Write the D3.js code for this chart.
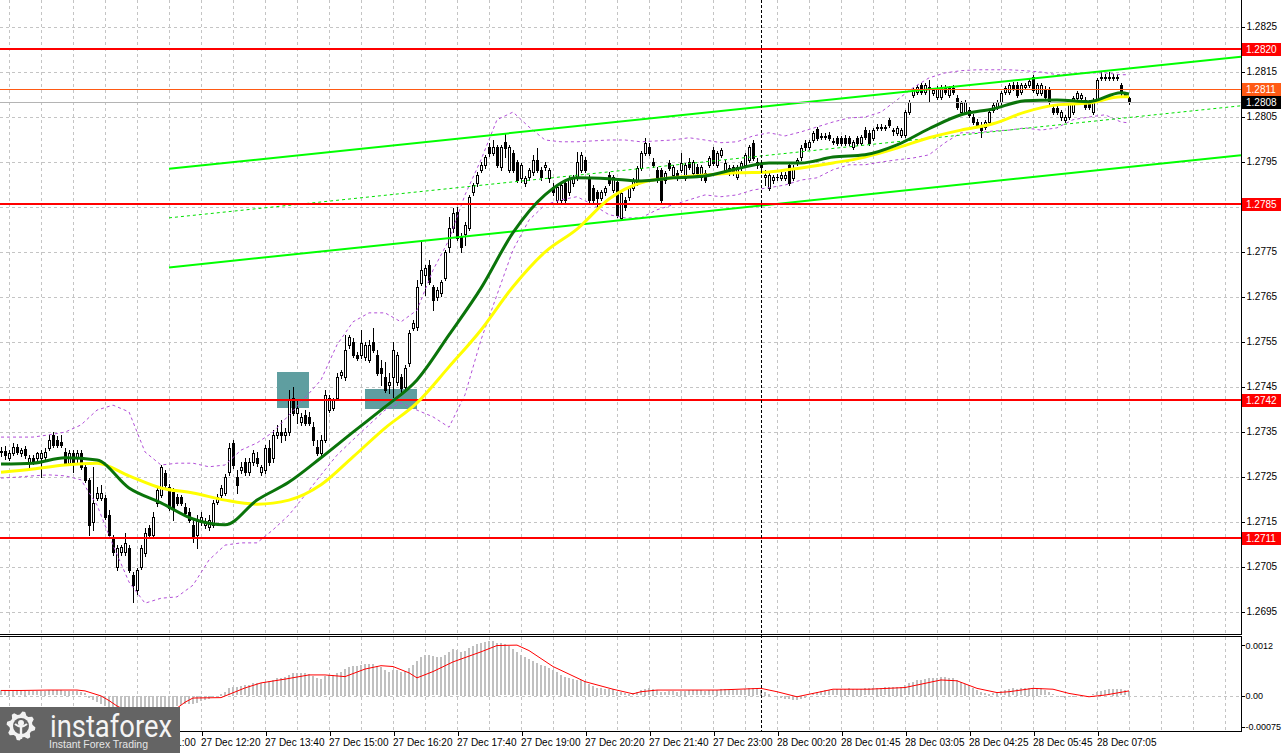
<!DOCTYPE html>
<html>
<head>
<meta charset="utf-8">
<title>GBPUSD M5</title>
<script src="https://d3js.org/d3.v7.min.js"></script>
<style>
html,body{margin:0;padding:0;background:#ffffff;overflow:hidden;}
svg{display:block;}
.ax text{font-family:"Liberation Sans",Arial,sans-serif;font-size:10px;fill:#000;}
.axm text{font-size:9px;}
</style>
</head>
<body>
<svg id="chart" width="1282" height="753"></svg>
<script>
// ================= DATA =================
const openP = [
1.27305,1.27307,1.27292,1.27303,1.27316,1.27303,1.27312,1.27280,1.27292,1.27292,
1.27292,1.27294,1.27314,1.27343,1.27332,1.27327,1.27305,1.27280,1.27303,1.27292,
1.27303,1.27272,1.27243,1.27149,1.27203,1.27203,1.27203,1.27165,1.27114,1.27049,
1.27083,1.27083,1.27092,1.27032,1.26998,1.27049,1.27080,1.27136,1.27120,1.27192,
1.27209,1.27258,1.27227,1.27216,1.27205,1.27205,1.27183,1.27172,1.27143,1.27120,
1.27149,1.27143,1.27138,1.27143,1.27194,1.27209,1.27214,1.27260,1.27325,1.27249,
1.27265,1.27283,1.27260,1.27283,1.27292,1.27260,1.27265,1.27314,1.27292,1.27343,
1.27349,1.27343,1.27349,1.27425,1.27392,1.27372,1.27387,1.27383,1.27360,1.27316,
1.27303,1.27332,1.27398,1.27403,1.27425,1.27476,1.27472,1.27543,1.27549,1.27520,
1.27520,1.27516,1.27509,1.27549,1.27520,1.27492,1.27472,1.27454,1.27472,1.27460,
1.27472,1.27449,1.27503,1.27580,1.27583,1.27680,1.27698,1.27720,1.27672,1.27649,
1.27658,1.27692,1.27760,1.27803,1.27838,1.27783,1.27789,1.27803,1.27883,1.27903,
1.27932,1.27943,1.27983,1.27969,1.27983,1.27938,1.27994,1.27932,1.27969,1.27949,
1.27914,1.27903,1.27916,1.27927,1.27954,1.27932,1.27938,1.27914,1.27894,1.27865,
1.27865,1.27903,1.27883,1.27903,1.27916,1.27932,1.27954,1.27914,1.27892,1.27883,
1.27869,1.27883,1.27920,1.27887,1.27905,1.27825,1.27865,1.27872,1.27892,1.27905,
1.27936,1.27969,1.27983,1.27949,1.27932,1.27932,1.27909,1.27947,1.27920,1.27925,
1.27932,1.27914,1.27949,1.27925,1.27938,1.27916,1.27925,1.27943,1.27976,1.27943,
1.27965,1.27932,1.27936,1.27938,1.27916,1.27936,1.27943,1.27954,1.27992,1.27949,
1.27943,1.27916,1.27892,1.27909,1.27916,1.27914,1.27914,1.27943,1.27914,1.27947,
1.27960,1.27992,1.27983,1.27998,1.28023,1.28005,1.28007,1.28009,1.27994,1.28003,
1.28003,1.28003,1.28003,1.27983,1.28003,1.27992,1.28020,1.28014,1.28003,1.28025,
1.28025,1.28025,1.28043,1.28020,1.28014,1.28009,1.28009,1.28060,1.28098,1.28105,
1.28120,1.28105,1.28114,1.28103,1.28094,1.28094,1.28114,1.28098,1.28114,1.28092,
1.28060,1.28060,1.28065,1.28049,1.28038,1.28032,1.28027,1.28038,1.28065,1.28072,
1.28083,1.28105,1.28105,1.28120,1.28120,1.28105,1.28116,1.28120,1.28138,1.28103,
1.28103,1.28112,1.28112,1.28069,1.28069,1.28049,1.28043,1.28049,1.28060,1.28092,
1.28092,1.28087,1.28083,1.28060,1.28087,1.28136,1.28136,1.28136,1.28136,1.28138,
1.28120,1.28100,1.28092];
const highP = [
1.27316,1.27318,1.27309,1.27325,1.27323,1.27314,1.27318,1.27298,1.27298,1.27305,
1.27309,1.27314,1.27343,1.27349,1.27340,1.27343,1.27314,1.27309,1.27309,1.27309,
1.27309,1.27276,1.27247,1.27272,1.27227,1.27232,1.27209,1.27176,1.27120,1.27098,
1.27098,1.27125,1.27098,1.27038,1.27047,1.27098,1.27136,1.27143,1.27172,1.27225,
1.27276,1.27265,1.27234,1.27225,1.27212,1.27209,1.27192,1.27180,1.27154,1.27165,
1.27172,1.27158,1.27165,1.27198,1.27212,1.27232,1.27256,1.27325,1.27332,1.27265,
1.27283,1.27292,1.27292,1.27309,1.27305,1.27276,1.27320,1.27332,1.27354,1.27365,
1.27376,1.27358,1.27443,1.27449,1.27420,1.27392,1.27398,1.27394,1.27372,1.27332,
1.27343,1.27443,1.27432,1.27425,1.27480,1.27487,1.27565,1.27565,1.27558,1.27527,
1.27576,1.27549,1.27554,1.27580,1.27532,1.27509,1.27505,1.27480,1.27549,1.27527,
1.27478,1.27498,1.27576,1.27598,1.27687,1.27772,1.27720,1.27732,1.27676,1.27672,
1.27687,1.27754,1.27827,1.27847,1.27849,1.27792,1.27816,1.27876,1.27903,1.27927,
1.27949,1.27965,1.27992,1.27998,1.27987,1.27987,1.28014,1.27987,1.27976,1.27954,
1.27947,1.27918,1.27936,1.27965,1.27980,1.27938,1.27949,1.27936,1.27903,1.27898,
1.27903,1.27909,1.27918,1.27920,1.27972,1.27972,1.27960,1.27920,1.27898,1.27887,
1.27887,1.27896,1.27927,1.27920,1.27914,1.27887,1.27872,1.27896,1.27914,1.27940,
1.27974,1.28003,1.27992,1.27958,1.27938,1.27936,1.27929,1.27954,1.27943,1.27932,
1.27969,1.27947,1.27958,1.27954,1.27945,1.27943,1.27932,1.27963,1.27983,1.27974,
1.27980,1.27954,1.27943,1.27943,1.27943,1.27952,1.27969,1.27987,1.27998,1.27958,
1.27949,1.27932,1.27925,1.27920,1.27923,1.27927,1.27927,1.27949,1.27943,1.27958,
1.27987,1.27998,1.27998,1.28018,1.28027,1.28014,1.28014,1.28016,1.28003,1.28007,
1.28007,1.28009,1.28007,1.27998,1.28007,1.28009,1.28027,1.28020,1.28025,1.28034,
1.28034,1.28032,1.28047,1.28025,1.28029,1.28025,1.28065,1.28087,1.28114,1.28120,
1.28125,1.28125,1.28132,1.28114,1.28118,1.28120,1.28120,1.28118,1.28120,1.28098,
1.28085,1.28087,1.28072,1.28056,1.28045,1.28038,1.28043,1.28065,1.28080,1.28087,
1.28107,1.28118,1.28125,1.28127,1.28127,1.28125,1.28125,1.28134,1.28143,1.28125,
1.28125,1.28118,1.28116,1.28076,1.28074,1.28065,1.28054,1.28085,1.28096,1.28107,
1.28103,1.28094,1.28087,1.28092,1.28136,1.28149,1.28145,1.28149,1.28145,1.28145,
1.28125,1.28105,1.28094];
const lowP = [
1.27296,1.27289,1.27287,1.27298,1.27300,1.27296,1.27292,1.27269,1.27278,1.27283,
1.27249,1.27289,1.27309,1.27316,1.27316,1.27316,1.27276,1.27276,1.27260,1.27283,
1.27267,1.27238,1.27120,1.27132,1.27198,1.27198,1.27156,1.27114,1.27076,1.27043,
1.27076,1.27076,1.27038,1.26972,1.26989,1.27045,1.27074,1.27114,1.27114,1.27185,
1.27205,1.27227,1.27176,1.27154,1.27187,1.27187,1.27165,1.27149,1.27105,1.27092,
1.27143,1.27136,1.27132,1.27138,1.27189,1.27205,1.27209,1.27254,1.27269,1.27214,
1.27258,1.27254,1.27254,1.27276,1.27274,1.27254,1.27258,1.27276,1.27283,1.27336,
1.27327,1.27332,1.27343,1.27387,1.27369,1.27365,1.27365,1.27365,1.27320,1.27298,
1.27296,1.27327,1.27394,1.27398,1.27420,1.27469,1.27465,1.27536,1.27516,1.27509,
1.27514,1.27509,1.27505,1.27527,1.27476,1.27454,1.27438,1.27436,1.27427,1.27454,
1.27432,1.27443,1.27496,1.27576,1.27576,1.27676,1.27654,1.27678,1.27620,1.27643,
1.27652,1.27687,1.27749,1.27794,1.27776,1.27749,1.27765,1.27798,1.27876,1.27896,
1.27927,1.27936,1.27963,1.27965,1.27938,1.27932,1.27960,1.27927,1.27927,1.27905,
1.27905,1.27896,1.27909,1.27920,1.27927,1.27909,1.27932,1.27905,1.27876,1.27858,
1.27858,1.27860,1.27876,1.27896,1.27909,1.27927,1.27927,1.27858,1.27858,1.27849,
1.27865,1.27876,1.27898,1.27883,1.27827,1.27820,1.27843,1.27865,1.27887,1.27898,
1.27932,1.27965,1.27965,1.27938,1.27905,1.27858,1.27903,1.27932,1.27914,1.27909,
1.27927,1.27909,1.27934,1.27920,1.27920,1.27909,1.27905,1.27938,1.27943,1.27938,
1.27960,1.27927,1.27920,1.27920,1.27912,1.27932,1.27938,1.27949,1.27954,1.27936,
1.27932,1.27898,1.27887,1.27903,1.27909,1.27909,1.27909,1.27898,1.27909,1.27943,
1.27954,1.27976,1.27978,1.27994,1.27998,1.28000,1.28000,1.27998,1.27989,1.27987,
1.27987,1.27987,1.27987,1.27978,1.27987,1.27987,1.28000,1.27987,1.27998,1.28020,
1.28020,1.28020,1.28027,1.28009,1.28009,1.28005,1.28005,1.28056,1.28094,1.28100,
1.28100,1.28100,1.28083,1.28098,1.28089,1.28089,1.28100,1.28094,1.28100,1.28067,
1.28056,1.28056,1.28049,1.28034,1.28027,1.28005,1.28023,1.28034,1.28060,1.28067,
1.28078,1.28100,1.28100,1.28109,1.28094,1.28100,1.28112,1.28116,1.28105,1.28098,
1.28098,1.28089,1.28078,1.28056,1.28056,1.28043,1.28038,1.28045,1.28056,1.28087,
1.28087,1.28067,1.28067,1.28056,1.28083,1.28132,1.28132,1.28132,1.28132,1.28132,
1.28098,1.28094,1.28078];
const closeP = [
1.27307,1.27298,1.27303,1.27316,1.27305,1.27309,1.27298,1.27292,1.27283,1.27303,
1.27303,1.27305,1.27332,1.27320,1.27320,1.27320,1.27280,1.27303,1.27280,1.27303,
1.27272,1.27243,1.27143,1.27192,1.27214,1.27214,1.27160,1.27120,1.27083,1.27092,
1.27094,1.27103,1.27043,1.27009,1.27043,1.27092,1.27125,1.27120,1.27160,1.27220,
1.27272,1.27232,1.27180,1.27180,1.27192,1.27192,1.27169,1.27154,1.27114,1.27154,
1.27160,1.27149,1.27154,1.27192,1.27205,1.27225,1.27249,1.27314,1.27276,1.27232,
1.27272,1.27260,1.27283,1.27303,1.27280,1.27272,1.27314,1.27283,1.27343,1.27349,
1.27343,1.27349,1.27420,1.27392,1.27403,1.27383,1.27369,1.27369,1.27332,1.27303,
1.27332,1.27432,1.27425,1.27420,1.27472,1.27483,1.27532,1.27560,1.27520,1.27514,
1.27547,1.27543,1.27543,1.27532,1.27480,1.27480,1.27443,1.27460,1.27532,1.27520,
1.27447,1.27492,1.27569,1.27592,1.27672,1.27709,1.27714,1.27683,1.27643,1.27665,
1.27683,1.27749,1.27803,1.27836,1.27780,1.27760,1.27809,1.27872,1.27898,1.27920,
1.27943,1.27960,1.27969,1.27983,1.27943,1.27983,1.27980,1.27983,1.27932,1.27909,
1.27943,1.27914,1.27932,1.27954,1.27932,1.27916,1.27943,1.27932,1.27883,1.27894,
1.27898,1.27865,1.27914,1.27916,1.27949,1.27965,1.27932,1.27865,1.27865,1.27869,
1.27883,1.27892,1.27903,1.27916,1.27832,1.27880,1.27849,1.27892,1.27909,1.27936,
1.27969,1.27992,1.27969,1.27943,1.27909,1.27865,1.27925,1.27936,1.27938,1.27914,
1.27947,1.27943,1.27938,1.27949,1.27925,1.27938,1.27909,1.27958,1.27947,1.27969,
1.27976,1.27947,1.27925,1.27925,1.27938,1.27947,1.27965,1.27983,1.27958,1.27943,
1.27938,1.27920,1.27920,1.27916,1.27916,1.27920,1.27920,1.27903,1.27936,1.27954,
1.27980,1.27983,1.27994,1.28014,1.28003,1.28007,1.28005,1.28003,1.27996,1.27992,
1.27992,1.27992,1.27992,1.27994,1.27992,1.28005,1.28005,1.27992,1.28020,1.28027,
1.28027,1.28027,1.28032,1.28018,1.28025,1.28020,1.28060,1.28083,1.28109,1.28116,
1.28105,1.28120,1.28116,1.28109,1.28114,1.28116,1.28105,1.28114,1.28105,1.28072,
1.28080,1.28083,1.28054,1.28038,1.28032,1.28020,1.28038,1.28060,1.28076,1.28083,
1.28103,1.28114,1.28120,1.28114,1.28098,1.28120,1.28120,1.28129,1.28109,1.28120,
1.28120,1.28094,1.28083,1.28060,1.28060,1.28060,1.28049,1.28080,1.28092,1.28103,
1.28098,1.28072,1.28072,1.28087,1.28132,1.28138,1.28138,1.28138,1.28138,1.28136,
1.28103,1.28098,1.28083];

// MACD main (histogram) per bar
const macdHist = [
0.00012,0.00012,0.00011,0.00011,0.00012,0.00012,0.00011,0.00010,0.00010,0.00010,
0.00011,0.00011,0.00013,0.00013,0.00013,0.00012,0.00011,0.00011,0.00010,0.00010,
0.00008,0.00005,-0.00004,-0.00010,-0.00014,-0.00018,-0.00024,-0.00030,-0.00037,-0.00041,
-0.00044,-0.00045,-0.00048,-0.00055,-0.00057,-0.00055,-0.00052,-0.00050,-0.00046,-0.00041,
-0.00035,-0.00031,-0.00030,-0.00028,-0.00025,-0.00022,-0.00020,-0.00019,-0.00020,-0.00016,
-0.00012,-0.00010,-0.00007,-0.00003,0.00000,0.00004,0.00009,0.00017,0.00021,0.00020,
0.00022,0.00024,0.00026,0.00029,0.00030,0.00029,0.00033,0.00034,0.00038,0.00041,
0.00042,0.00043,0.00050,0.00053,0.00054,0.00054,0.00053,0.00052,0.00047,0.00042,
0.00040,0.00046,0.00048,0.00049,0.00054,0.00057,0.00064,0.00069,0.00070,0.00071,
0.00073,0.00074,0.00075,0.00076,0.00071,0.00068,0.00061,0.00057,0.00060,0.00061,
0.00057,0.00058,0.00066,0.00072,0.00083,0.00092,0.00097,0.00097,0.00093,0.00091,
0.00092,0.00097,0.00104,0.00110,0.00108,0.00104,0.00107,0.00114,0.00119,0.00123,
0.00126,0.00128,0.00130,0.00130,0.00126,0.00124,0.00122,0.00117,0.00111,0.00103,
0.00097,0.00091,0.00086,0.00083,0.00078,0.00073,0.00070,0.00066,0.00060,0.00055,
0.00050,0.00045,0.00042,0.00039,0.00038,0.00037,0.00034,0.00028,0.00023,0.00019,
0.00017,0.00015,0.00016,0.00015,0.00009,0.00008,0.00005,0.00004,0.00005,0.00008,
0.00012,0.00016,0.00017,0.00016,0.00013,0.00008,0.00008,0.00010,0.00010,0.00009,
0.00011,0.00011,0.00012,0.00013,0.00012,0.00012,0.00010,0.00012,0.00013,0.00014,
0.00015,0.00015,0.00013,0.00012,0.00012,0.00013,0.00015,0.00018,0.00019,0.00017,
0.00014,0.00009,0.00004,0.00000,-0.00003,-0.00005,-0.00007,-0.00008,-0.00009,-0.00010,
-0.00008,-0.00004,0.00000,0.00005,0.00008,0.00010,0.00012,0.00013,0.00013,0.00015,
0.00016,0.00016,0.00017,0.00016,0.00016,0.00016,0.00017,0.00017,0.00017,0.00018,
0.00019,0.00020,0.00021,0.00021,0.00021,0.00021,0.00025,0.00029,0.00033,0.00036,
0.00038,0.00040,0.00041,0.00042,0.00042,0.00043,0.00043,0.00042,0.00041,0.00037,
0.00032,0.00028,0.00024,0.00018,0.00013,0.00008,0.00005,0.00004,0.00005,0.00007,
0.00010,0.00013,0.00016,0.00017,0.00016,0.00017,0.00018,0.00019,0.00019,0.00018,
0.00017,0.00013,0.00008,0.00003,0.00000,-0.00002,-0.00004,-0.00003,-0.00002,0.00000,
0.00001,0.00001,0.00000,0.00003,0.00008,0.00011,0.00013,0.00015,0.00016,0.00016,
0.00015,0.00013,0.00011];

// MACD signal line (bar index, value)
const signalIdx = [0,5,12,19,21,22,25,27,29,32,37,41,43,44,46,48,55,61,65,71,77,81,86,91,95,98,102,104,108,113,120,124,129,132,138,146,153,158,160,164,179,190,194,199,202,208,217,226,231,235,239,244,249,252,258,263,267,272,276,282];
const signalVal = [0.00012,0.00012,0.00013,0.00013,0.00011,0.00008,-0.00001,-0.00012,-0.00025,-0.00039,-0.00046,-0.00044,-0.00035,-0.00030,-0.00016,-0.00006,-0.00005,0.00018,0.00030,0.00039,0.00049,0.00049,0.00045,0.00063,0.00071,0.00069,0.00054,0.00042,0.00057,0.00080,0.00104,0.00119,0.00120,0.00107,0.00069,0.00033,0.00015,0.00004,0.00009,0.00013,0.00013,0.00017,0.00009,-0.00003,0.00003,0.00015,0.00015,0.00019,0.00029,0.00037,0.00035,0.00017,0.00007,0.00009,0.00017,0.00015,0.00005,-0.00003,0.00001,0.00011];

// Moving averages (bar index, price)
const maIdx = [0,8,16,24,32,40,48,56,64,72,80,88,96,104,112,120,128,136,144,152,160,168,176,184,192,200,208,216,224,232,240,248,256,264,272,280,282];
const maGreen = [1.27278,1.27280,1.27292,1.27287,1.27225,1.27192,1.27156,1.27143,1.27198,1.27238,1.27292,1.27349,1.27405,1.27465,1.27565,1.27669,1.27792,1.27876,1.27914,1.27912,1.27907,1.27914,1.27918,1.27934,1.27947,1.27947,1.27960,1.27965,1.27987,1.28023,1.28054,1.28067,1.28085,1.28087,1.28083,1.28103,1.28100];
const maYellow = [1.27260,1.27267,1.27276,1.27280,1.27252,1.27225,1.27214,1.27198,1.27189,1.27198,1.27232,1.27294,1.27358,1.27414,1.27494,1.27576,1.27672,1.27749,1.27800,1.27867,1.27903,1.27914,1.27920,1.27925,1.27927,1.27936,1.27947,1.27960,1.27980,1.28003,1.28020,1.28034,1.28060,1.28076,1.28080,1.28094,1.28094];

// Bollinger bands (bar index, price)
const bbIdx = [0,4,8,12,16,20,24,28,32,36,40,44,48,52,56,60,64,68,72,76,80,84,88,92,96,100,104,108,112,116,120,124,128,132,136,140,144,148,152,156,160,164,168,172,176,180,184,188,192,196,200,204,208,212,216,220,224,228,232,236,240,244,248,252,256,260,264,268,272,276,280,282];
const bbUpper = [1.27338,1.27338,1.27338,1.27343,1.27349,1.27365,1.27398,1.27409,1.27394,1.27305,1.27276,1.27280,1.27280,1.27272,1.27276,1.27309,1.27325,1.27349,1.27387,1.27425,1.27465,1.27543,1.27594,1.27614,1.27614,1.27594,1.27620,1.27709,1.27776,1.27876,1.27954,1.28043,1.28060,1.28027,1.27998,1.27994,1.27994,1.27996,1.27998,1.27998,1.27994,1.27996,1.27998,1.28003,1.27998,1.27992,1.27994,1.28007,1.28014,1.28007,1.28016,1.28027,1.28038,1.28047,1.28049,1.28060,1.28087,1.28114,1.28136,1.28147,1.28152,1.28154,1.28154,1.28154,1.28152,1.28149,1.28143,1.28145,1.28147,1.28147,1.28143,1.28143];
const bbLower = [1.27247,1.27249,1.27252,1.27254,1.27252,1.27243,1.27187,1.27098,1.27016,1.26969,1.26980,1.26983,1.27009,1.27065,1.27098,1.27103,1.27103,1.27132,1.27165,1.27209,1.27254,1.27298,1.27332,1.27365,1.27398,1.27414,1.27398,1.27383,1.27360,1.27432,1.27554,1.27654,1.27754,1.27820,1.27854,1.27865,1.27872,1.27854,1.27832,1.27825,1.27825,1.27843,1.27854,1.27865,1.27876,1.27872,1.27876,1.27887,1.27892,1.27898,1.27909,1.27914,1.27932,1.27943,1.27943,1.27949,1.27954,1.27958,1.27965,1.27992,1.28014,1.28014,1.28018,1.28020,1.28025,1.28020,1.28025,1.28043,1.28049,1.28054,1.28038,1.28036];

// Axis ticks
const priceTicks = [1.2695,1.2705,1.2715,1.2725,1.2735,1.2745,1.2755,1.2765,1.2775,1.2785,1.2795,1.2805,1.2815,1.2825];
const timeIdx = [34,50,66,82,98,114,130,146,162,178,194,210,226,242,258,274];
const timeLabels = ["27 Dec 11:00","27 Dec 12:20","27 Dec 13:40","27 Dec 15:00","27 Dec 16:20","27 Dec 17:40","27 Dec 19:00","27 Dec 20:20","27 Dec 21:40","27 Dec 23:00","28 Dec 00:20","28 Dec 01:45","28 Dec 03:05","28 Dec 04:25","28 Dec 05:45","28 Dec 07:05"];
const macdTicks = [0.0012,0,-0.00075];
const macdTickLabels = ["0.0012","0.00","-0.00075"];

// Levels and objects
const levelPrices = [1.2820,1.27856,1.2742,1.27113];
const levelLabels = ["1.2820","1.2785","1.2742","1.2711"];
const askPrice = 1.28111, askLabel = "1.2811";
const bidPrice = 1.28083, bidLabel = "1.2808";
const channelIdx = [42,310];
const channelUpper = [1.27934,1.28183];
const channelMid = [1.27825,1.28074];
const channelLower = [1.27715,1.27964];
const boxFrom = [69,91], boxTo = [77,104], boxLow = [1.27403,1.27400], boxHigh = [1.27483,1.27445];
const daySeparatorIdx = 190;

// ================= DRAWING =================
const svg = d3.select('#chart');
const R = 1241;                 // right edge of plots
const x = d3.scaleLinear().domain([0,310]).range([1,1241]);
const y = d3.scaleLinear().domain([1.26905,1.28309]).range([632,0]);
const ym = d3.scaleLinear().domain([-0.000845,0.001417]).range([731,636]);
const bars = d3.range(openP.length);
const px = i => Math.round(x(i));

svg.append('rect').attr('width',1282).attr('height',753).attr('fill','#fff');
const defs = svg.append('defs');
defs.append('clipPath').attr('id','cm').append('rect').attr('x',0).attr('y',0).attr('width',R).attr('height',634);
defs.append('clipPath').attr('id','cd').append('rect').attr('x',0).attr('y',637).attr('width',R).attr('height',94);

const gMain = svg.append('g').attr('clip-path','url(#cm)');
const gMacd = svg.append('g').attr('clip-path','url(#cd)');

// grid
const gridIdx = d3.range(2,310,8);
gMain.append('g').selectAll('line').data(priceTicks).join('line')
  .attr('x1',0).attr('x2',R)
  .attr('y1',d=>Math.round(y(d))+0.5).attr('y2',d=>Math.round(y(d))+0.5)
  .attr('stroke','#c4c4c4').attr('stroke-dasharray','3,3');
[[gMain,0,634],[gMacd,637,731]].forEach(([g,a,b])=>{
  g.append('g').selectAll('line').data(gridIdx).join('line')
    .attr('x1',d=>px(d)+0.5).attr('x2',d=>px(d)+0.5).attr('y1',a).attr('y2',b)
    .attr('stroke','#c4c4c4').attr('stroke-dasharray','3,3');
});
gMacd.append('line').attr('x1',0).attr('x2',R).attr('y1',Math.round(ym(0))+0.5).attr('y2',Math.round(ym(0))+0.5)
  .attr('stroke','#c4c4c4').attr('stroke-dasharray','3,3');

// rectangles (background objects)
gMain.append('g').selectAll('rect').data(boxFrom).join('rect')
  .attr('x',(d,k)=>px(boxFrom[k])).attr('width',(d,k)=>px(boxTo[k])-px(boxFrom[k]))
  .attr('y',(d,k)=>Math.round(y(boxHigh[k]))).attr('height',(d,k)=>Math.round(y(boxLow[k]))-Math.round(y(boxHigh[k])))
  .attr('fill','#5f9ea0');

// candles
const gC = gMain.append('g').attr('shape-rendering','crispEdges');
gC.append('g').selectAll('rect').data(bars).join('rect')
  .attr('x',i=>px(i)).attr('width',1)
  .attr('y',i=>Math.round(y(highP[i])))
  .attr('height',i=>Math.max(1,Math.round(y(lowP[i]))-Math.round(y(highP[i]))+1))
  .attr('fill','#000');
const bodyTop = i=>Math.round(y(Math.max(openP[i],closeP[i])));
const bodyBot = i=>Math.round(y(Math.min(openP[i],closeP[i])));
gC.append('g').selectAll('rect').data(bars).join('rect')
  .attr('x',i=>px(i)-1).attr('width',3)
  .attr('y',bodyTop).attr('height',i=>bodyBot(i)-bodyTop(i)+1)
  .attr('fill','#000');
gC.append('g').selectAll('rect').data(bars.filter(i=>closeP[i]>openP[i] && bodyBot(i)-bodyTop(i)>=2)).join('rect')
  .attr('x',i=>px(i)).attr('width',1)
  .attr('y',i=>bodyTop(i)+1).attr('height',i=>bodyBot(i)-bodyTop(i)-1)
  .attr('fill','#fff');

// Bollinger bands
const bbLine = arr => d3.line().x((d,k)=>x(bbIdx[k])).y((d,k)=>y(arr[k]))(arr);
[bbUpper,bbLower].forEach(arr=>{
  gMain.append('path').attr('d',bbLine(arr)).attr('fill','none')
    .attr('stroke','#b24fd8').attr('stroke-width',1).attr('stroke-dasharray','3,3');
});

// channel
const chLine = (arr)=>d3.line().x((d,k)=>x(channelIdx[k])).y((d,k)=>y(arr[k]))(arr);
gMain.append('path').attr('d',chLine(channelUpper)).attr('stroke','#00ff00').attr('stroke-width',2).attr('fill','none');
gMain.append('path').attr('d',chLine(channelLower)).attr('stroke','#00ff00').attr('stroke-width',2).attr('fill','none');
gMain.append('path').attr('d',chLine(channelMid)).attr('stroke','#00e000').attr('stroke-width',1).attr('stroke-dasharray','3,3').attr('fill','none');

// ask / bid lines
gMain.append('line').attr('x1',0).attr('x2',R).attr('y1',Math.round(y(askPrice))+0.5).attr('y2',Math.round(y(askPrice))+0.5)
  .attr('stroke','#ff5a14').attr('stroke-width',1);
gMain.append('line').attr('x1',0).attr('x2',R).attr('y1',Math.round(y(bidPrice))+0.5).attr('y2',Math.round(y(bidPrice))+0.5)
  .attr('stroke','#b4b4b4').attr('stroke-width',1);

// level lines
gMain.append('g').selectAll('line').data(levelPrices).join('line')
  .attr('x1',0).attr('x2',R).attr('y1',d=>Math.round(y(d))).attr('y2',d=>Math.round(y(d)))
  .attr('stroke','#ff0000').attr('stroke-width',2);

// moving averages
const maLine = arr => d3.line().curve(d3.curveMonotoneX).x((d,k)=>x(maIdx[k])).y((d,k)=>y(arr[k]))(arr);
gMain.append('path').attr('d',maLine(maYellow)).attr('fill','none').attr('stroke','#ffff00').attr('stroke-width',3);
gMain.append('path').attr('d',maLine(maGreen)).attr('fill','none').attr('stroke','#0a740a').attr('stroke-width',3);

// MACD histogram + signal
gMacd.append('g').attr('shape-rendering','crispEdges').selectAll('rect').data(bars).join('rect')
  .attr('x',i=>px(i)-1).attr('width',2)
  .attr('y',i=>Math.round(Math.min(ym(macdHist[i]),ym(0))))
  .attr('height',i=>Math.max(0,Math.round(Math.abs(ym(macdHist[i])-ym(0)))))
  .attr('fill','#c0c0c0');
gMacd.append('path')
  .attr('d',d3.line().x((d,k)=>x(signalIdx[k])).y((d,k)=>ym(signalVal[k]))(signalVal))
  .attr('fill','none').attr('stroke','#ff0000').attr('stroke-width',1);

// day separator
svg.append('line').attr('x1',px(daySeparatorIdx)+0.5).attr('x2',px(daySeparatorIdx)+0.5).attr('y1',0).attr('y2',731)
  .attr('stroke','#000').attr('stroke-dasharray','3,2');

// frames
const fr = svg.append('g').attr('shape-rendering','crispEdges').attr('stroke','#000');
fr.append('line').attr('x1',0).attr('x2',R+1).attr('y1',634.5).attr('y2',634.5);
fr.append('line').attr('x1',0).attr('x2',R+1).attr('y1',636.5).attr('y2',636.5);
fr.append('line').attr('x1',0).attr('x2',R+1).attr('y1',731.5).attr('y2',731.5);

// axes (tick labels covered by a coloured price tag are not printed, as on the terminal)
const tagPrices = levelPrices.concat([askPrice,bidPrice]);
const hidden = d => tagPrices.some(p=>Math.abs(y(p)-y(d))<8);
const yAxis = d3.axisRight(y).tickValues(priceTicks).tickSize(3).tickPadding(2)
  .tickFormat(d => hidden(d) ? '' : d3.format('.4f')(d));
const gy = svg.append('g').attr('class','ax').attr('transform',`translate(${R+0.5},0)`).call(yAxis);
gy.select('.domain').attr('d','M0,0V634.5');
gy.selectAll('text').filter(function(){return this.textContent==='';}).remove();
const mAxis = d3.axisRight(ym).tickValues(macdTicks).tickSize(3).tickPadding(1).tickFormat((d,k)=>macdTickLabels[k]);
const gm = svg.append('g').attr('class','ax axm').attr('transform',`translate(${R+0.5},0)`).call(mAxis);
gm.select('.domain').attr('d','M0,636.5V731.5');
const xAxis = d3.axisBottom(x).tickValues(timeIdx).tickSize(4).tickPadding(3).tickFormat((d,k)=>timeLabels[k]);
const gx = svg.append('g').attr('class','ax').attr('transform','translate(0.5,731.5)').call(xAxis);
gx.select('.domain').remove();
gx.selectAll('text').attr('text-anchor','start').attr('x',-1);
svg.selectAll('.ax line, .ax path').attr('stroke','#000').attr('shape-rendering','crispEdges');

// price labels on axis
const labelFont = '"Liberation Sans",Arial,sans-serif';
function tag(price, text, bg){
  const yy = Math.round(y(price));
  svg.append('rect').attr('x',1242).attr('y',yy-6).attr('width',39).attr('height',13).attr('fill',bg);
  svg.append('text').attr('x',1246).attr('y',yy+4).text(text)
    .attr('fill','#fff').attr('font-family',labelFont).attr('font-size','10px');
}
levelPrices.forEach((p,k)=>tag(p,levelLabels[k],'#ff0000'));
tag(askPrice,askLabel,'#ff5a14');
tag(bidPrice,bidLabel,'#000000');

// logo
const lg = svg.append('g');
lg.append('rect').attr('x',0).attr('y',707).attr('width',180).attr('height',46).attr('fill','#646464');
const cx0 = 21, cy0 = 726, teeth = 8;
const gearPts = [];
for(let k=0;k<teeth*4;k++){
  const a = (k/(teeth*4))*Math.PI*2 - Math.PI/2;
  const r = (k%4===0||k%4===1)?14.5:11.5;
  gearPts.push([cx0+r*Math.cos(a+Math.PI/(teeth*4)), cy0+r*Math.sin(a+Math.PI/(teeth*4))]);
}
lg.append('path').attr('d','M'+gearPts.map(p=>p.join(',')).join('L')+'Z').attr('fill','#f2f2f2');
lg.append('circle').attr('cx',cx0).attr('cy',cy0).attr('r',8).attr('fill','#646464');
lg.append('circle').attr('cx',cx0).attr('cy',cy0-3).attr('r',3).attr('fill','#f2f2f2');
lg.append('path').attr('d',`M${cx0-6},${cy0-2} Q${cx0},${cy0+3} ${cx0+6},${cy0-2}`).attr('stroke','#f2f2f2').attr('stroke-width',2.2).attr('fill','none');
lg.append('rect').attr('x',cx0-1.2).attr('y',cy0+1).attr('width',2.4).attr('height',12).attr('fill','#f2f2f2');
lg.append('text').attr('x',50).attr('y',737).text('instaforex')
  .attr('font-family','Roboto, "Open Sans", sans-serif').attr('font-weight',400)
  .attr('font-size','31px').attr('fill','#f4f4f4')
  .attr('textLength',122).attr('lengthAdjust','spacingAndGlyphs');
lg.append('text').attr('x',49).attr('y',748).text('Instant Forex Trading')
  .attr('font-family','"Liberation Sans", Arial, sans-serif')
  .attr('font-size','11px').attr('fill','#e6e6e6')
  .attr('textLength',99).attr('lengthAdjust','spacingAndGlyphs');
</script>
</body>
</html>
